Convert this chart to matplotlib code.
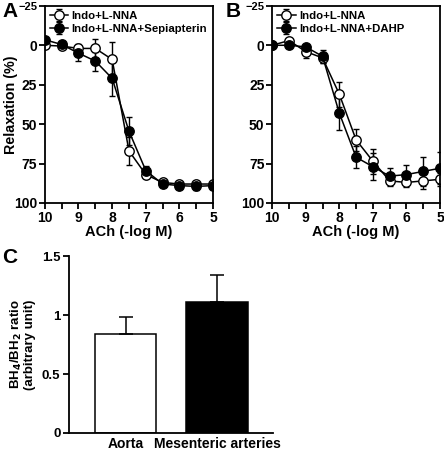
import matplotlib
matplotlib.use("Agg")
import matplotlib.pyplot as plt

plt.rcParams.update({
    "font.family": "Liberation Sans",
    "font.weight": "bold",
    "font.size": 9,
    "axes.linewidth": 1.3,
    "xtick.major.width": 1.3,
    "ytick.major.width": 1.3,
    "xtick.minor.width": 1.3,
})

# concentrations (-log M)
ach = [10, 9.5, 9, 8.5, 8, 7.5, 7, 6.5, 6, 5.5, 5]

# Panel A
a_ctrl = [0, 0.5, 2, 2, 9, 67, 82, 87, 88, 88, 88]
a_ctrl_err = [0, 0, 3, 6, 11, 9, 2, 2, 2, 2, 2]
a_sepi = [-3.5, -0.5, 5, 10, 21, 54.5, 79.5, 88, 89, 89.5, 89]
a_sepi_err = [0, 0, 5, 6, 11, 9, 3, 2, 2, 2, 2]

# Panel B
b_ctrl = [0, -3, 4, 8, 31, 60, 73.5, 86, 87, 86, 85]
b_ctrl_err = [0, 0, 4, 3, 8, 7, 8, 3.5, 3, 5, 4]
b_dahp = [0, 0, 1, 7, 43, 71, 77, 83, 82, 80, 78]
b_dahp_err = [0, 0, 0, 4, 11, 7, 8.5, 5, 6, 9, 10]

# Panel C
tissues = ["Aorta", "Mesenteric arteries"]
ratio = [0.84, 1.11]
ratio_err = [0.14, 0.23]

fig = plt.figure(figsize=(4.44, 4.51), dpi=100)
ax_a = fig.add_axes([0.101, 0.550, 0.379, 0.437])
ax_b = fig.add_axes([0.613, 0.550, 0.378, 0.437])
ax_c = fig.add_axes([0.155, 0.040, 0.460, 0.392])


def curve(ax, y, err, filled, label):
    ax.errorbar(ach, y, yerr=err, fmt="-o", color="black", lw=1.1,
                ms=6.8, mec="black", mew=1.0,
                mfc="black" if filled else "white",
                capsize=2.5, elinewidth=1.0, capthick=1.0, label=label)


def style_curve_ax(ax):
    ax.set_xlim(10, 5)
    ax.set_ylim(100, -25)
    ax.set_xticks([10, 9, 8, 7, 6, 5])
    ax.set_xticks([9.5, 8.5, 7.5, 6.5, 5.5], minor=True)
    ax.set_yticks([-25, 0, 25, 50, 75, 100])
    ax.tick_params(axis="both", direction="out", length=4, pad=1.5,
                   labelsize=10)
    ax.tick_params(axis="x", which="minor", direction="out", length=4)
    ax.tick_params(top=False, right=False)
    # the -25 label is printed smaller in the original
    ax.get_yticklabels()[0].set_fontsize(8)
    ax.set_xlabel("ACh (-log M)", fontsize=10.5, fontweight="bold", labelpad=0)
    ax.legend(loc="upper left", fontsize=8.2, frameon=False, handlelength=1.6,
              handletextpad=0.3, borderaxespad=0.1, labelspacing=0.25,
              borderpad=0.35)


curve(ax_a, a_ctrl, a_ctrl_err, False, "Indo+L-NNA")
curve(ax_a, a_sepi, a_sepi_err, True, "Indo+L-NNA+Sepiapterin")
style_curve_ax(ax_a)
ax_a.set_ylabel("Relaxation (%)", fontsize=10.3, fontweight="bold")
ax_a.yaxis.set_label_coords(-0.16, 0.5)

curve(ax_b, b_ctrl, b_ctrl_err, False, "Indo+L-NNA")
curve(ax_b, b_dahp, b_dahp_err, True, "Indo+L-NNA+DAHP")
style_curve_ax(ax_b)

# Panel C bars
pos = range(len(tissues))
ax_c.bar(pos, ratio, width=0.67, color=["white", "black"],
         edgecolor="black", linewidth=1.1)
ax_c.errorbar(pos, ratio, yerr=[[0, 0], ratio_err], fmt="none",
              ecolor="black", elinewidth=1.1, capsize=5, capthick=1.1)
ax_c.set_xlim(-0.626, 1.615)
ax_c.set_ylim(0, 1.5)
ax_c.set_yticks([0, 0.5, 1, 1.5])
ax_c.set_yticklabels(["0", "0.5", "1", "1.5"])
ax_c.set_xticks(list(pos))
ax_c.set_xticklabels(tissues, fontsize=10)
ax_c.tick_params(axis="x", length=0, pad=3)
ax_c.tick_params(axis="y", direction="out", length=4, pad=2, labelsize=9.5)
ax_c.spines["top"].set_visible(False)
ax_c.spines["right"].set_visible(False)
ax_c.set_ylabel("BH$_4$/BH$_2$ ratio\n(arbitrary unit)", fontsize=9.5,
                fontweight="bold", labelpad=4, linespacing=1.05)

fig.text(0.005, 0.995, "A", fontsize=15, fontweight="bold", va="top")
fig.text(0.508, 0.995, "B", fontsize=15, fontweight="bold", va="top")
fig.text(0.005, 0.450, "C", fontsize=15, fontweight="bold", va="top")

fig.savefig("out.png", dpi=100)
